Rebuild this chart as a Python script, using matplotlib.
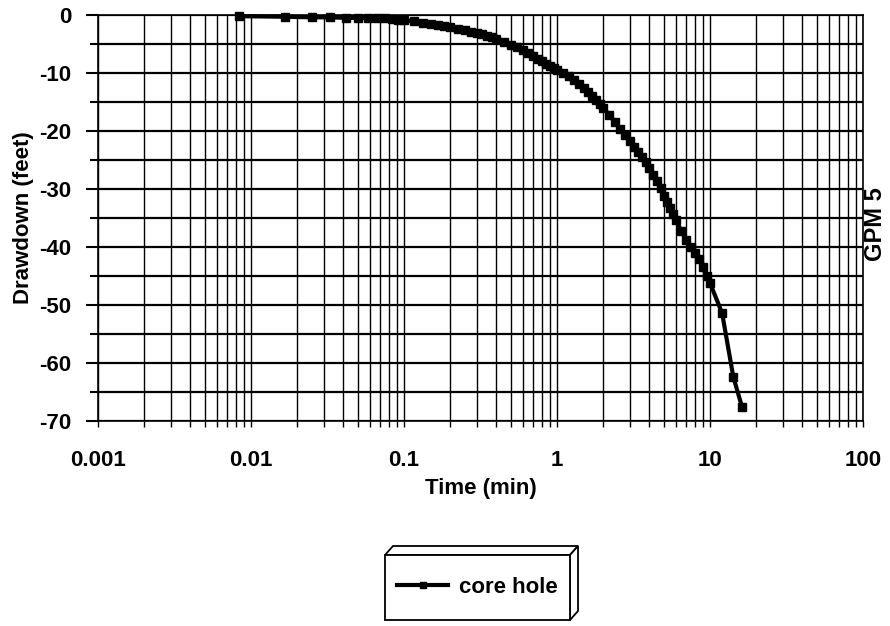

# drawdown vs time, core hole test (semi-log)

import matplotlib
matplotlib.use('Agg')
from matplotlib.pyplot import subplots, close, rcParams
from matplotlib.ticker import LogLocator, NullFormatter, MultipleLocator, FixedFormatter
from matplotlib.patches import Polygon, Rectangle
import numpy as n

rcParams['axes.unicode_minus'] = False

## data
time_min = [0.0083, 0.0167, 0.025, 0.033, 0.042, 0.05, 0.058, 0.067, 0.075, 0.083,
			0.092, 0.1, 0.117, 0.133, 0.15, 0.167, 0.183, 0.2, 0.225, 0.25, 0.275, 0.3,
			0.325, 0.35, 0.375, 0.4, 0.45, 0.5, 0.55, 0.6, 0.65, 0.7, 0.75, 0.8,
			0.85, 0.9, 0.95, 1.0, 1.1, 1.2, 1.3, 1.4, 1.5, 1.6,
			1.7, 1.8, 1.9, 2.0, 2.2, 2.4, 2.6, 2.8, 3.0, 3.2,
			3.4, 3.6, 3.8, 4.0, 4.25, 4.5, 4.75, 5.0, 5.25, 5.5,
			5.75, 6.0, 6.5, 7.0, 7.5, 8.0, 8.5, 9.0, 9.5, 10.0,
			12.0, 14.2, 16.2]
drawdown_ft = [-0.2, -0.3, -0.4, -0.4, -0.5, -0.5, -0.5, -0.6, -0.6, -0.7,
			   -0.8, -0.9, -1.1, -1.3, -1.5, -1.7, -1.9, -2.1, -2.35, -2.6, -2.85, -3.1,
			   -3.35, -3.6, -3.85, -4.1, -4.6, -5.1, -5.6, -6.1, -6.6, -7.1, -7.6, -8.0,
			   -8.4, -8.8, -9.1, -9.4, -10.0, -10.5, -11.2, -11.9, -12.6, -13.3,
			   -14.0, -14.7, -15.3, -16.0, -17.2, -18.5, -19.6, -20.7, -21.8, -22.7,
			   -23.6, -24.5, -25.4, -26.3, -27.5, -28.7, -29.9, -31.2, -32.3, -33.3,
			   -34.3, -35.3, -37.3, -38.8, -40.0, -41.0, -42.0, -43.5, -45.0, -46.2,
			   -51.4, -62.4, -67.6]

x_ticks = [0.001, 0.01, 0.1, 1, 10, 100]
x_tick_lab = ['0.001', '0.01', '0.1', '1', '10', '100']
y_ticks = [0, -10, -20, -30, -40, -50, -60, -70]

series_nam = 'core hole'
side_txt = 'GPM 5'

## parameter
fs = 16.
font = dict(family='Liberation Sans', weight='bold')
W, H = 890, 626

fig, ax = subplots(figsize=(W/100., H/100.), dpi=100.)
ax.set_position([98/W, 1-421/H, (863-98)/W, (421-15)/H])

## plot
ax.plot(time_min, drawdown_ft, color='k', lw=3., marker='s', ms=6., mfc='k', mec='k',
		label=series_nam, zorder=5, clip_on=False)

## axes setting
ax.set_xscale('log')
ax.set(xlim=(0.001, 100), ylim=(-70, 0))
ax.set_xticks(x_ticks)
ax.xaxis.set_major_formatter(FixedFormatter(x_tick_lab))
ax.xaxis.set_minor_locator(LogLocator(base=10, subs=n.arange(2, 10)))
ax.xaxis.set_minor_formatter(NullFormatter())
ax.set_yticks(y_ticks)
ax.yaxis.set_minor_locator(MultipleLocator(5))

ax.grid(which='both', axis='y', color='k', lw=1.6)
ax.grid(which='both', axis='x', color='k', lw=1.0)
ax.set_axisbelow(True)
for sp in ax.spines.values():
	sp.set_linewidth(1.2)

ax.tick_params(axis='x', which='both', direction='out', length=4., width=1., pad=17.)
ax.tick_params(axis='y', which='major', direction='out', length=9., width=1.5, pad=10.)
ax.tick_params(axis='y', which='minor', direction='out', length=6., width=1.5)
for lab in ax.get_xticklabels() + ax.get_yticklabels():
	lab.set_fontsize(fs)
	lab.set_fontfamily(font['family'])
	lab.set_fontweight(font['weight'])

ax.set_xlabel('Time (min)', fontsize=fs, labelpad=5., **font)
ax.set_ylabel('Drawdown (feet)', fontsize=fs, **font)
ax.yaxis.set_label_coords((34-98)/(863-98), .5)

fig.text(876/W, 1-224/H, side_txt, rotation=90, ha='center', va='center', fontsize=fs+1, **font)

## 3d legend box
x0, x1, y0, y1 = 385/W, 570/W, 1-620/H, 1-555/H
dx, dy = 8/W, 9/H
box_kw = dict(transform=fig.transFigure, fc='w', ec='k', lw=1.3, zorder=1)
fig.patches.append(Polygon([(x0, y1), (x0+dx, y1+dy), (x1+dx, y1+dy), (x1, y1)], **box_kw))
fig.patches.append(Polygon([(x1, y0), (x1+dx, y0+dy), (x1+dx, y1+dy), (x1, y1)], **box_kw))
fig.patches.append(Rectangle((x0, y0), x1-x0, y1-y0, **box_kw))

fig.legend(loc='center', bbox_to_anchor=((x0+x1)/2, (y0+y1)/2), frameon=False,
		   prop=dict(size=fs, **font), handlelength=2.3, handletextpad=.5, markerscale=.7)

fig.savefig('out.png', dpi=100.)
close()
